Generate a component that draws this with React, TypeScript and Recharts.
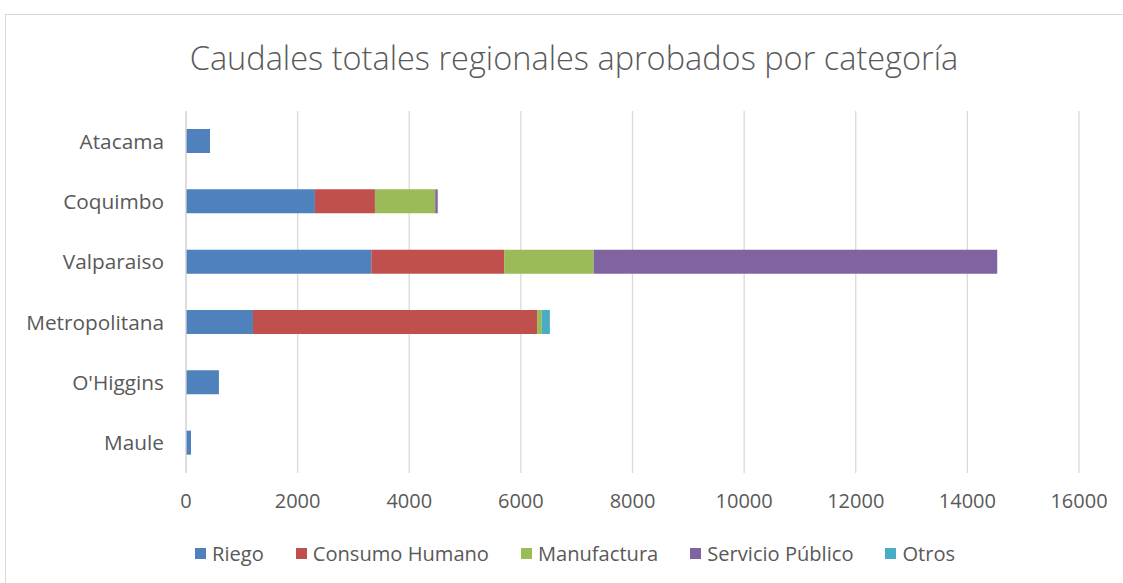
import { BarChart, Bar, XAxis, YAxis, CartesianGrid, Legend } from "recharts"

const regions = ["Atacama", "Coquimbo", "Valparaiso", "Metropolitana", "O'Higgins", "Maule"]
const riego = [430, 2310, 3320, 1200, 590, 90]
const consumoHumano = [0, 1075, 2380, 5090, 0, 0]
const manufactura = [0, 1080, 1605, 85, 0, 0]
const servicioPublico = [0, 45, 7230, 0, 0, 0]
const otros = [0, 0, 0, 145, 0, 0]
const xTicks = [0, 2000, 4000, 6000, 8000, 10000, 12000, 14000, 16000]

const SERIES = [
  { key: "riego", name: "Riego", color: "#4f81bd", values: riego },
  { key: "consumo", name: "Consumo Humano", color: "#c0504d", values: consumoHumano },
  { key: "manufactura", name: "Manufactura", color: "#9bbb59", values: manufactura },
  { key: "servicio", name: "Servicio Público", color: "#8064a2", values: servicioPublico },
  { key: "otros", name: "Otros", color: "#4bacc6", values: otros },
]

const FONT = "'Open Sans', Lato, sans-serif"
const TEXT_COLOR = "#595959"

const data = regions.map((region, i) => {
  const row: Record<string, string | number> = { region }
  SERIES.forEach((s) => {
    row[s.key] = s.values[i]
  })
  return row
})

function LegendContent() {
  return (
    <div style={{ display: "flex", alignItems: "center", height: 40, fontFamily: FONT, fontSize: 20.1, color: TEXT_COLOR }}>
      {SERIES.map((s) => (
        <div key={s.key} style={{ display: "flex", alignItems: "center", marginRight: 32 }}>
          <span style={{ width: 11, height: 11, background: s.color, marginRight: 6, display: "inline-block" }} />
          <span>{s.name}</span>
        </div>
      ))}
    </div>
  )
}

export default function App() {
  return (
    <div style={{ position: "fixed", left: 0, top: 0, width: 1123, height: 583, background: "#fff", overflow: "hidden" }}>
      <div
        style={{
          position: "absolute",
          left: 5,
          top: 14,
          width: 1140,
          height: 600,
          border: "1px solid #d9d9d9",
        }}
      />
      <div
        style={{
          position: "absolute",
          left: 0,
          top: 35,
          width: 1148,
          textAlign: "center",
          fontFamily: FONT,
          fontWeight: 300,
          fontSize: 32.5,
          color: TEXT_COLOR,
        }}
      >
        Caudales totales regionales aprobados por categoría
      </div>
      <div style={{ position: "absolute", left: 0, top: 0 }}>
        <BarChart
          width={1123}
          height={583}
          data={data}
          layout="vertical"
          barSize={24}
          margin={{ top: 111, right: 44, bottom: 10, left: 0 }}
        >
          <CartesianGrid horizontal={false} stroke="#d9d9d9" strokeWidth={1.3} />
          <XAxis
            type="number"
            domain={[0, 16000]}
            ticks={xTicks}
            height={60}
            tickLine={false}
            axisLine={false}
            tickMargin={15}
            tick={{ fontSize: 20, fill: TEXT_COLOR, fontFamily: FONT }}
          />
          <YAxis
            type="category"
            dataKey="region"
            width={186}
            tickLine={false}
            axisLine={{ stroke: "#d9d9d9", strokeWidth: 1.3 }}
            tickMargin={16}
            tick={{ fontSize: 20.8, fill: TEXT_COLOR, fontFamily: FONT }}
          />
          <Legend
            verticalAlign="bottom"
            height={40}
            content={<LegendContent />}
            wrapperStyle={{ left: 195, width: 900 }}
          />
          {SERIES.map((s) => (
            <Bar key={s.key} dataKey={s.key} name={s.name} stackId="a" fill={s.color} isAnimationActive={false} />
          ))}
        </BarChart>
      </div>
    </div>
  )
}
